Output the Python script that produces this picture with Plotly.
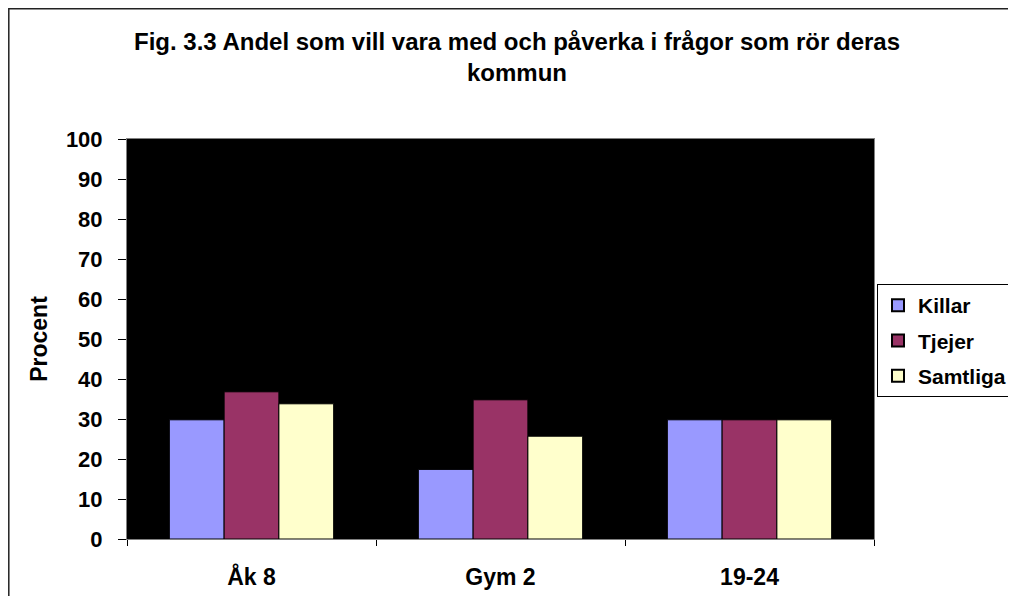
import plotly.graph_objects as go

categories = ["Åk 8", "Gym 2", "19-24"]
killar = [29.8, 17.4, 29.8]
tjejer = [36.8, 34.8, 29.8]
samtliga = [33.8, 25.7, 29.8]
y_ticks = [0, 10, 20, 30, 40, 50, 60, 70, 80, 90, 100]

FONT = "Liberation Sans, Arial, sans-serif"
# page body has an 8px margin on every side; size the figure to fit without scrollbars
W, H = 1000, 588
L, T = 119, 131
pw, ph = 747, 400
R = W - L - pw
B = H - T - ph

fig = go.Figure()
for name, vals, col in [("Killar", killar, "#9999FF"),
                        ("Tjejer", tjejer, "#993366"),
                        ("Samtliga", samtliga, "#FFFFCC")]:
    fig.add_trace(go.Bar(x=categories, y=vals, name=name, legendgroup=name,
                         marker=dict(color=col, line=dict(color="black", width=1))))

px2x = lambda p: (p - L) / pw
px2y = lambda p: (H - B - p) / ph
# outer chart frame (continues past the visible right/bottom edges)
fig.add_shape(type="rect", xref="paper", yref="paper",
              x0=px2x(0.8), x1=px2x(1200), y0=px2y(900), y1=px2y(0.8),
              line=dict(color="#222222", width=1.5), layer="below")

fig.update_layout(
    width=W, height=H,
    margin=dict(l=L, r=R, t=T, b=B, autoexpand=False),
    paper_bgcolor="white", plot_bgcolor="black",
    barmode="group", bargap=0.34, bargroupgap=0,
    font=dict(family=FONT, color="black", size=23, weight="bold"),
    title=dict(text="Fig. 3.3 Andel som vill vara med och påverka i frågor som rör deras<br>kommun",
               x=509 / W, xanchor="center", xref="container", y=1 - 42 / H, yanchor="top",
               font=dict(family=FONT, size=24, weight="bold", color="black")),
    legend=dict(x=px2x(869), y=px2y(276), xanchor="left", yanchor="top",
                bgcolor="white", bordercolor="black", borderwidth=1,
                font=dict(family=FONT, size=21, weight="bold"),
                tracegroupgap=5, itemsizing="constant"),
    showlegend=True,
)
fig.update_xaxes(type="category", showline=True, linecolor="#808080", linewidth=1, mirror=True,
                 ticks="outside", tickson="boundaries", ticklen=6, tickcolor="black",
                 ticklabelstandoff=17, showgrid=False,
                 tickfont=dict(family=FONT, size=23, weight="bold"))
fig.update_yaxes(range=[0, 100], tickvals=y_ticks, showline=True, linecolor="#808080",
                 linewidth=1, mirror=True, ticks="outside", ticklen=8, tickcolor="black",
                 showgrid=False, zeroline=False, ticklabelstandoff=11,
                 tickfont=dict(family=FONT, size=22, weight="bold"),
                 title=dict(text="Procent", standoff=11,
                            font=dict(family=FONT, size=23, weight="bold")))

fig.write_html("out.html")
